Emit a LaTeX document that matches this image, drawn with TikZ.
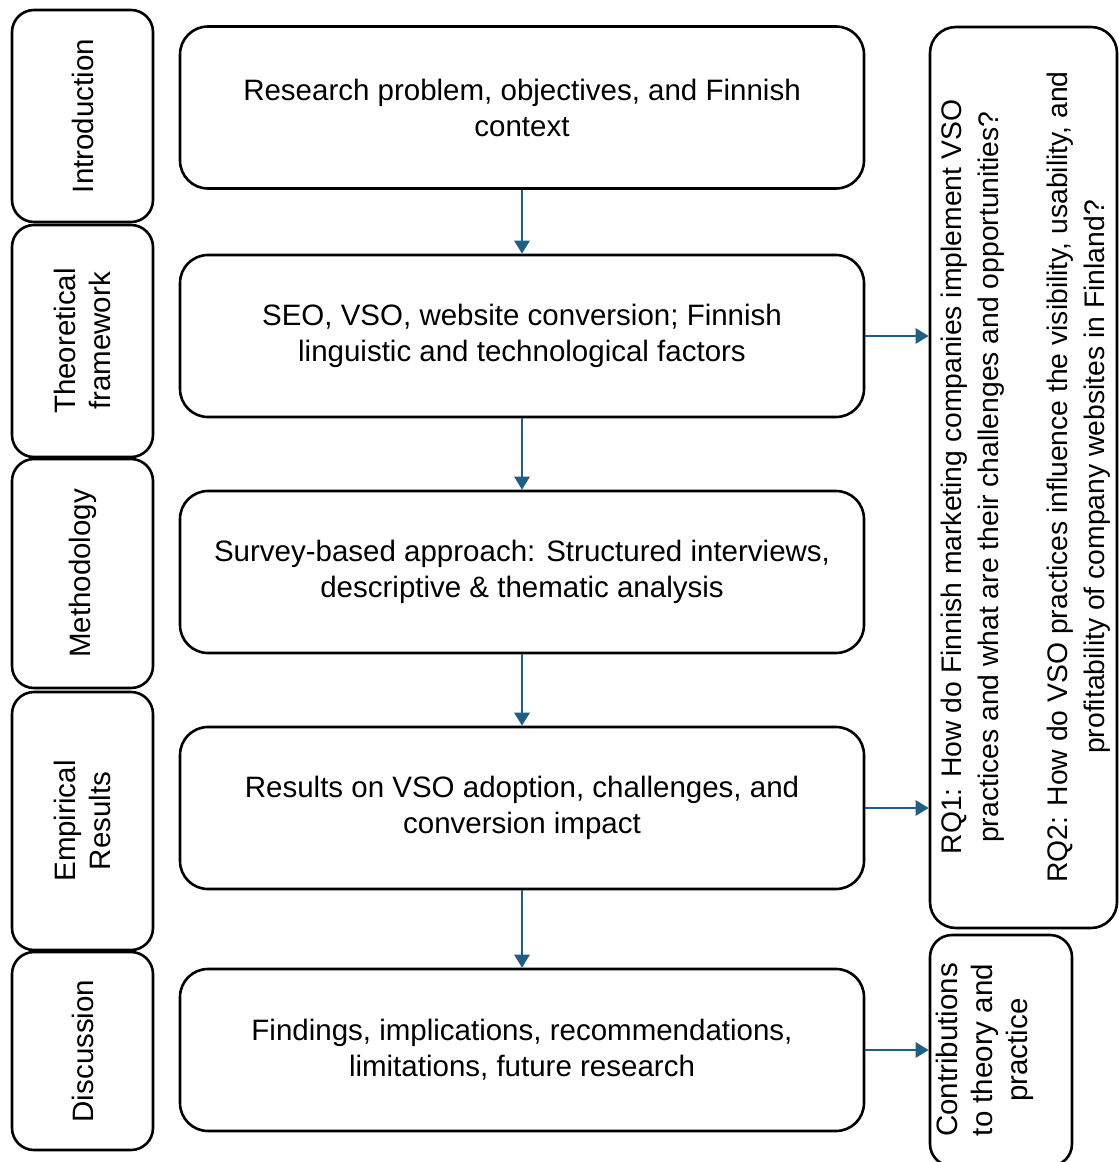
\documentclass[tikz,border=0pt]{standalone}
\usepackage{fontspec}
\setmainfont{Liberation Sans}
\usetikzlibrary{arrows.meta}
\definecolor{arrowblue}{RGB}{31,94,133}
\begin{document}
\begin{tikzpicture}[x=1pt,y=-1pt,
  sidebox/.style={draw=black, line width=2.6pt, rounded corners=22pt, rotate=90, inner sep=0pt, align=center,
    font=\fontsize{29.5}{35}\selectfont},
  mainbox/.style={draw=black, line width=2.6pt, rounded corners=28pt, inner sep=0pt, align=center,
    minimum width=684pt, minimum height=162pt, font=\fontsize{29.5}{36}\selectfont},
  rqbox/.style={draw=black, line width=2.6pt, rounded corners=26pt, rotate=90, inner sep=0pt, align=center},
  rottext/.style={rotate=90, inner sep=0pt, align=center, font=\fontsize{29.5}{35}\selectfont},
  arr/.style={draw=arrowblue, line width=2.8pt, -{Triangle[length=13pt,width=15pt]}}
]
\useasboundingbox (0,0) rectangle (1119,1162);

% left section labels
\node[sidebox, minimum width=212pt, minimum height=141pt] (intro) at (82.5,116) {Introduction};
\node[sidebox, minimum width=232pt, minimum height=141pt] (theo) at (82.5,341) {Theoretical\\framework};
\node[sidebox, minimum width=229pt, minimum height=141pt] (meth) at (82.5,573.5) {Methodology};
\node[sidebox, minimum width=258pt, minimum height=141pt] (emp) at (82.5,821) {Empirical\\Results};
\node[sidebox, minimum width=198pt, minimum height=141pt] (disc) at (82.5,1051) {Discussion};

% main boxes
\node[mainbox] (b1) at (522,107.5) {Research problem, objectives, and Finnish\\context};
\node[mainbox] (b2) at (522,336) {SEO, VSO, website conversion; Finnish\\linguistic and technological factors};
\node[mainbox] (b3) at (522,572) {Survey-based approach: Structured interviews,\\descriptive \& thematic analysis};
\node[mainbox] (b4) at (522,808) {Results on VSO adoption, challenges, and\\conversion impact};
\node[mainbox] (b5) at (522,1050) {Findings, implications, recommendations,\\limitations, future research};

% right boxes
\node[rqbox, minimum width=901pt, minimum height=187pt] (rq) at (1023.5,477.5) {};
\node[rottext, font=\fontsize{28.3}{37}\selectfont] (rqtext) at (1026,477)
  {RQ1: How do Finnish marketing companies implement VSO\\practices and what are their challenges and opportunities?\\[32pt]
   RQ2: How do VSO practices influence the visibility, usability, and\\profitability of company websites in Finland?};
\node[rqbox, rounded corners=22pt, minimum width=231pt, minimum height=142pt] (contrib) at (1001,1050.5) {};
\node[rottext] (contribtext) at (985,1050) {Contributions\\to theory and\\practice};

% arrows
\draw[arr] (b1.south) -- (b2.north);
\draw[arr] (b2.south) -- (b3.north);
\draw[arr] (b3.south) -- (b4.north);
\draw[arr] (b4.south) -- (b5.north);
\draw[arr] (b2.east) -- (b2.east -| rq.north);
\draw[arr] (b4.east) -- (b4.east -| rq.north);
\draw[arr] (b5.east) -- (b5.east -| contrib.north);
\end{tikzpicture}
\end{document}
